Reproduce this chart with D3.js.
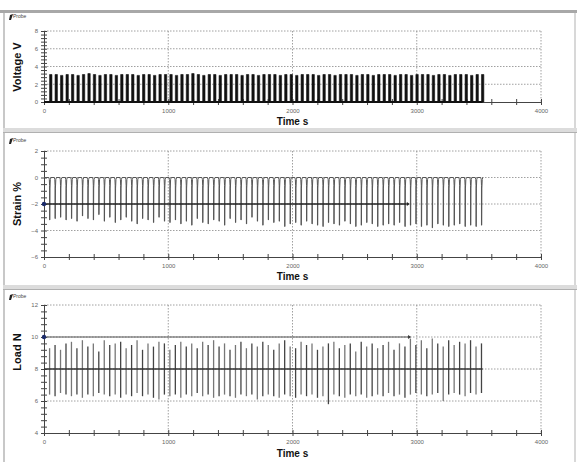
<!DOCTYPE html>
<html><head><meta charset="utf-8">
<script src="https://cdn.jsdelivr.net/npm/d3@7"></script>
<style>body{margin:0;background:#fff;}svg{display:block;font-family:"Liberation Sans",Arial,sans-serif;}</style>
</head><body><svg id="c" width="577" height="462"></svg>
<script>
// ---- data ----
const cycleTimes = [45,89,133,177,221,265,309,353,397,441,485,529,573,617,661,705,749,793,837,881,925,969,1013,1057,1101,1145,1189,1233,1277,1321,1365,1409,1453,1497,1541,1585,1629,1673,1717,1761,1805,1849,1893,1937,1981,2025,2069,2113,2157,2201,2245,2289,2333,2377,2421,2465,2509,2553,2597,2641,2685,2729,2773,2817,2861,2905,2949,2993,3037,3081,3125,3169,3213,3257,3301,3345,3389,3433,3477,3521];
const voltagePeaks = [3.1,3.1,3.0,3.1,3.1,3.0,3.1,3.2,3.1,3.0,3.1,3.1,3.0,3.1,3.1,3.1,3.0,3.1,3.1,3.0,3.1,3.1,3.1,3.0,3.1,3.1,3.2,3.1,3.0,3.1,3.1,3.0,3.1,3.1,3.1,3.0,3.1,3.1,3.0,3.1,3.1,3.1,3.0,3.1,3.1,3.0,3.1,3.1,3.1,3.0,3.1,3.1,3.0,3.1,3.1,3.1,3.0,3.1,3.1,3.0,3.1,3.1,3.1,3.0,3.1,3.1,3.0,3.1,3.1,3.1,3.0,3.1,3.1,3.0,3.1,3.1,3.1,3.0,3.1,3.1];
const strainMin = [-3.2,-3.1,-3.0,-3.2,-3.1,-3.3,-2.9,-3.1,-3.2,-2.8,-3.3,-3.0,-3.4,-3.2,-3.0,-3.3,-3.5,-3.1,-3.2,-3.4,-3.0,-3.3,-3.4,-3.2,-3.5,-3.3,-3.6,-3.1,-3.4,-3.5,-3.2,-3.3,-3.6,-3.1,-3.4,-3.2,-3.5,-3.0,-3.3,-3.6,-3.2,-3.4,-3.3,-3.7,-3.5,-3.4,-3.6,-3.3,-3.5,-3.6,-3.7,-3.4,-3.5,-3.6,-3.3,-3.5,-3.7,-3.6,-3.4,-3.5,-3.7,-3.6,-3.5,-3.6,-3.4,-3.7,-3.6,-3.5,-3.7,-3.6,-3.8,-3.5,-3.6,-3.7,-3.6,-3.5,-3.7,-3.6,-3.7,-3.6];
const loadMax = [9.3,9.5,9.2,9.6,9.7,9.3,9.8,9.4,9.6,9.1,9.8,9.5,9.6,9.7,9.3,9.5,9.8,9.2,9.6,9.4,9.7,9.6,9.2,9.5,9.7,9.4,9.6,9.3,9.7,9.5,9.8,9.4,9.6,9.2,9.5,9.7,9.3,9.6,9.4,9.7,9.5,9.2,9.6,9.8,9.4,9.3,9.7,9.5,9.6,9.2,9.4,9.6,9.7,9.3,9.5,9.6,9.1,9.7,9.4,9.6,9.3,9.5,9.7,9.2,9.6,9.4,9.9,9.5,9.8,9.3,9.9,9.6,9.4,9.8,9.5,9.7,9.6,9.8,9.4,9.6];
const loadMin = [6.4,6.3,6.5,6.4,6.3,6.4,6.2,6.4,6.3,6.5,6.4,6.3,6.4,6.2,6.4,6.3,6.5,6.3,6.4,6.2,6.1,6.4,6.3,6.4,6.2,6.4,6.3,6.5,6.3,6.4,6.2,6.3,6.4,6.3,6.2,6.4,6.3,6.4,6.1,6.3,6.4,6.3,6.2,6.4,6.3,6.2,6.4,6.3,6.4,6.2,6.3,5.8,6.4,6.3,6.2,6.4,6.3,6.4,6.2,6.3,6.4,6.3,6.5,6.3,6.4,6.2,6.4,6.5,6.4,6.3,6.4,6.5,6.0,6.4,6.5,6.4,6.3,6.5,6.4,6.5];
const xTicks = [0,1000,2000,3000,4000];
const voltTicks = [0,2,4,6,8];
const strainTicks = [-6,-4,-2,0,2];
const loadTicks = [4,6,8,10,12];
const strainProbe = -2, strainProbeEnd = 2920;
const loadProbe = 10, loadProbeEnd = 2930, loadMean = 8;

const svg = d3.select("#c");
// window frame
svg.append("rect").attr("x",0).attr("y",10).attr("width",577).attr("height",3).attr("fill","#a8a8a8");
svg.append("rect").attr("x",3).attr("y",13).attr("width",2).attr("height",449).attr("fill","#c8c8c8");
svg.append("rect").attr("x",574).attr("y",13).attr("width",2).attr("height",449).attr("fill","#d8d8d8");
[[128,5],[285,5]].forEach(([y,h])=>{
  svg.append("rect").attr("x",3).attr("y",y).attr("width",574).attr("height",h).attr("fill","#dcdcdc");
  svg.append("line").attr("x1",3).attr("x2",577).attr("y1",y+h-0.5).attr("y2",y+h-0.5).attr("stroke","#b0b0b0");
});

const x = d3.scaleLinear().domain([0,4000]).range([44,541]);

function panel(o){
  const y = d3.scaleLinear().domain(o.domain).range([o.bottom,o.top]);
  const g = svg.append("g");
  // probe label
  g.append("path").attr("d",`M9,${o.probeY+6} L10,${o.probeY+1} L13,${o.probeY} L12,${o.probeY+3} L11,${o.probeY+6} Z`).attr("fill","#222");
  g.append("text").attr("x",13).attr("y",o.probeY+4).attr("font-size",5).attr("fill","#444").text("Probe");
  // grid dotted
  o.ticks.forEach(v=>{
    if(v===o.domain[0]) return;
    g.append("line").attr("x1",x(0)).attr("x2",x(4000)).attr("y1",y(v)).attr("y2",y(v))
      .attr("stroke","#888").attr("stroke-width",0.8).attr("stroke-dasharray","1.5,1.5");
  });
  xTicks.slice(1).forEach(v=>{
    g.append("line").attr("x1",x(v)).attr("x2",x(v)).attr("y1",o.top).attr("y2",o.bottom)
      .attr("stroke","#888").attr("stroke-width",0.8).attr("stroke-dasharray","1.5,1.5");
  });
  // x axis
  const xa = g.append("g").attr("transform",`translate(0,${o.bottom})`)
    .call(d3.axisBottom(x).tickValues(d3.range(0,4001,200)).tickSize(3).tickFormat(d=>xTicks.includes(d)?d:""));
  xa.select(".domain").attr("stroke","#444");
  xa.selectAll(".tick line").attr("stroke","#444").attr("y1",-3);
  xa.selectAll("text").attr("font-size",6).attr("fill","#666").attr("dy","0.9em").attr("font-family","Liberation Sans, Arial");
  // y axis
  const minor = d3.range(o.domain[0],o.domain[1]+1e-9,o.minor);
  const ya = g.append("g").attr("transform",`translate(${x(0)},0)`)
    .call(d3.axisLeft(y).tickValues(minor).tickSize(3).tickFormat(d=>o.ticks.some(t=>Math.abs(t-d)<1e-6)?d3.format("d")(d):""));
  ya.select(".domain").attr("stroke","#444");
  ya.selectAll(".tick line").attr("stroke","#444").attr("x2",3).attr("x1",-3);
  ya.selectAll("text").attr("font-size",6).attr("fill","#666").attr("x",-6).attr("font-family","Liberation Sans, Arial");
  // titles
  g.append("text").attr("transform",`translate(${o.titleX},${o.titleY}) rotate(-90)`).attr("text-anchor","middle")
    .attr("font-size",11).attr("font-weight","bold").attr("fill","#111").text(o.title);
  g.append("text").attr("x",(x(0)+x(4000))/2).attr("y",o.timeY).attr("text-anchor","middle")
    .attr("font-size",10).attr("font-weight","bold").attr("fill","#111").text("Time s");
  return {g,y};
}

// ---- Voltage ----
const p1 = panel({domain:[0,8],top:31,bottom:102,ticks:voltTicks,minor:0.4,title:"Voltage V",titleX:21,titleY:67,timeY:125,probeY:14});
{
  const pts=[[0,0]];
  cycleTimes.forEach((t,i)=>{pts.push([t,0],[t,voltagePeaks[i]],[t+19,voltagePeaks[i]],[t+19,0]);});
  pts.push([3530,0]);
  p1.g.append("path").attr("d",d3.line().x(d=>x(d[0])).y(d=>p1.y(d[1]))(pts))
    .attr("fill","#111").attr("stroke","#111").attr("stroke-width",0.6);
  p1.g.append("line").attr("x1",x(0)).attr("x2",x(3530)).attr("y1",p1.y(0)).attr("y2",p1.y(0)).attr("stroke","#111").attr("stroke-width",2);
}

// ---- Strain ----
const p2 = panel({domain:[-6,2],top:151,bottom:257,ticks:strainTicks,minor:0.5,title:"Strain %",titleX:21,titleY:204,timeY:280,probeY:138});
{
  const pts=[[0,0]];
  cycleTimes.forEach((t,i)=>{
    pts.push([t-6,0],[t-2,-0.15],[t,-0.6],[t,strainMin[i]],[t+2,strainMin[i]],[t+3,-0.8],[t+6,-0.15],[t+11,0]);
  });
  pts.push([3530,0]);
  p2.g.append("path").attr("d",d3.line().x(d=>x(d[0])).y(d=>p2.y(d[1]))(pts))
    .attr("fill","none").attr("stroke","#555").attr("stroke-width",1);
  p2.g.append("line").attr("x1",x(0)).attr("x2",x(strainProbeEnd)).attr("y1",p2.y(strainProbe)).attr("y2",p2.y(strainProbe))
    .attr("stroke","#222").attr("stroke-width",1.6);
  p2.g.append("path").attr("d",`M${x(strainProbeEnd)},${p2.y(strainProbe)-2} l3,2 l-3,2 Z`).attr("fill","#222");
  p2.g.append("circle").attr("cx",x(0)).attr("cy",p2.y(strainProbe)).attr("r",2.2).attr("fill","#1a2a6a");
}

// ---- Load ----
const p3 = panel({domain:[4,12],top:305,bottom:433,ticks:loadTicks,minor:0.4,title:"Load N",titleX:21,titleY:352,timeY:457,probeY:294});
{
  p3.g.selectAll("line.ld").data(cycleTimes).join("line").attr("class","ld")
    .attr("x1",d=>x(d)).attr("x2",d=>x(d))
    .attr("y1",(d,i)=>p3.y(loadMax[i])).attr("y2",(d,i)=>p3.y(loadMin[i]))
    .attr("stroke",(d,i)=>i%2?"#444":"#777").attr("stroke-width",1.3);
  p3.g.append("line").attr("x1",x(0)).attr("x2",x(3530)).attr("y1",p3.y(loadMean)).attr("y2",p3.y(loadMean))
    .attr("stroke","#333").attr("stroke-width",1.6);
  p3.g.append("line").attr("x1",x(0)).attr("x2",x(loadProbeEnd)).attr("y1",p3.y(loadProbe)).attr("y2",p3.y(loadProbe))
    .attr("stroke","#555").attr("stroke-width",1.2);
  p3.g.append("path").attr("d",`M${x(loadProbeEnd)},${p3.y(loadProbe)-2} l3,2 l-3,2 Z`).attr("fill","#333");
  p3.g.append("circle").attr("cx",x(0)).attr("cy",p3.y(loadProbe)).attr("r",2.2).attr("fill","#1a2a6a");
}
</script></body></html>
